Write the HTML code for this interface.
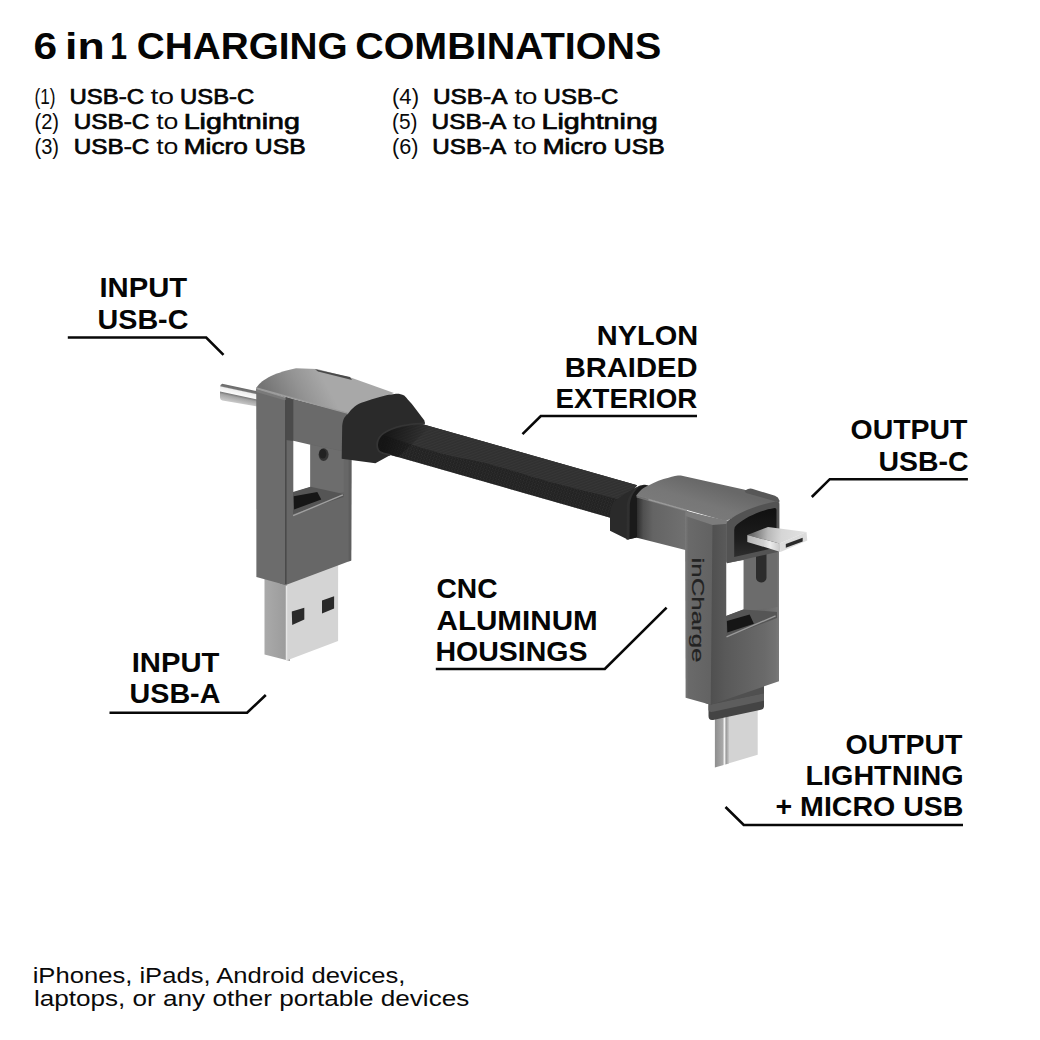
<!DOCTYPE html>
<html><head><meta charset="utf-8">
<style>
html,body{margin:0;padding:0;background:#fff;width:1040px;height:1040px;overflow:hidden}
svg{display:block}
.b{font-family:"Liberation Sans",sans-serif;font-weight:bold;fill:#050505}
.r{font-family:"Liberation Sans",sans-serif;font-weight:normal;fill:#0a0a0a;stroke:none}
.sb{font-family:"Liberation Sans",sans-serif;font-weight:normal;fill:#050505;stroke:#050505;stroke-width:0.7}
.ln{fill:none;stroke:#080808;stroke-width:2.6;stroke-linejoin:miter}
</style></head>
<body>
<svg width="1040" height="1040" viewBox="0 0 1040 1040">
<!-- title -->
<g class="b" font-size="37.8">
<text x="33.4" y="59" textLength="23.6" lengthAdjust="spacingAndGlyphs">6</text>
<text x="65" y="59" textLength="39.6" lengthAdjust="spacingAndGlyphs">in</text>
<text x="110.2" y="59" textLength="16.8" lengthAdjust="spacingAndGlyphs">1</text>
<text x="136.75" y="59" textLength="210.9" lengthAdjust="spacingAndGlyphs">CHARGING</text>
<text x="355.2" y="59" textLength="306.1" lengthAdjust="spacingAndGlyphs">COMBINATIONS</text>
</g>
<!-- list -->
<text id="p1" class="r" textLength="21" lengthAdjust="spacingAndGlyphs" x="34.5" y="103.75" font-size="21.8">(1)</text>
<text class="sb" x="69.50" y="103.75" font-size="21.8" textLength="74.51" lengthAdjust="spacingAndGlyphs">USB-C</text>
<text class="r" x="150.40" y="103.75" font-size="21.8" textLength="23.64" lengthAdjust="spacingAndGlyphs">to</text>
<text class="sb" x="180.11" y="103.75" font-size="21.8" textLength="74.10" lengthAdjust="spacingAndGlyphs">USB-C</text>
<text id="p2" class="r" textLength="24.5" lengthAdjust="spacingAndGlyphs" x="34.5" y="128.75" font-size="21.8">(2)</text>
<text class="sb" x="73.78" y="128.75" font-size="21.8" textLength="75.64" lengthAdjust="spacingAndGlyphs">USB-C</text>
<text class="r" x="156.20" y="128.75" font-size="21.8" textLength="22.25" lengthAdjust="spacingAndGlyphs">to</text>
<text class="sb" x="183.69" y="128.75" font-size="21.8" textLength="116.26" lengthAdjust="spacingAndGlyphs">Lightning</text>
<text id="p3" class="r" textLength="24.5" lengthAdjust="spacingAndGlyphs" x="34.5" y="153.5" font-size="21.8">(3)</text>
<text class="sb" x="73.78" y="153.5" font-size="21.8" textLength="75.64" lengthAdjust="spacingAndGlyphs">USB-C</text>
<text class="r" x="156.20" y="153.5" font-size="21.8" textLength="22.25" lengthAdjust="spacingAndGlyphs">to</text>
<text class="sb" x="183.80" y="153.5" font-size="21.8" textLength="64.04" lengthAdjust="spacingAndGlyphs">Micro</text>
<text class="sb" x="254.87" y="153.5" font-size="21.8" textLength="50.77" lengthAdjust="spacingAndGlyphs">USB</text>
<text id="p4" class="r" textLength="27" lengthAdjust="spacingAndGlyphs" x="392" y="103.75" font-size="21.8">(4)</text>
<text class="sb" x="432.98" y="103.75" font-size="21.8" textLength="74.50" lengthAdjust="spacingAndGlyphs">USB-A</text>
<text class="r" x="514.40" y="103.75" font-size="21.8" textLength="23.11" lengthAdjust="spacingAndGlyphs">to</text>
<text class="sb" x="543.60" y="103.75" font-size="21.8" textLength="74.61" lengthAdjust="spacingAndGlyphs">USB-C</text>
<text id="p5" class="r" textLength="25.5" lengthAdjust="spacingAndGlyphs" x="392" y="128.75" font-size="21.8">(5)</text>
<text class="sb" x="431.58" y="128.75" font-size="21.8" textLength="74.70" lengthAdjust="spacingAndGlyphs">USB-A</text>
<text class="r" x="512.70" y="128.75" font-size="21.8" textLength="23.22" lengthAdjust="spacingAndGlyphs">to</text>
<text class="sb" x="541.49" y="128.75" font-size="21.8" textLength="116.26" lengthAdjust="spacingAndGlyphs">Lightning</text>
<text id="p6" class="r" textLength="26.5" lengthAdjust="spacingAndGlyphs" x="392" y="153.5" font-size="21.8">(6)</text>
<text class="sb" x="432.29" y="153.5" font-size="21.8" textLength="73.99" lengthAdjust="spacingAndGlyphs">USB-A</text>
<text class="r" x="514.00" y="153.5" font-size="21.8" textLength="23.11" lengthAdjust="spacingAndGlyphs">to</text>
<text class="sb" x="542.80" y="153.5" font-size="21.8" textLength="64.04" lengthAdjust="spacingAndGlyphs">Micro</text>
<text class="sb" x="613.87" y="153.5" font-size="21.8" textLength="50.77" lengthAdjust="spacingAndGlyphs">USB</text>

<!-- callouts -->
<g class="b" font-size="26.9">
<text x="99.50" y="297.3" textLength="87.70" lengthAdjust="spacingAndGlyphs">INPUT</text>
<text x="97.50" y="328.8" textLength="90.90" lengthAdjust="spacingAndGlyphs">USB-C</text>
<text x="596.80" y="345.4" textLength="101.40" lengthAdjust="spacingAndGlyphs">NYLON</text>
<text x="564.70" y="376.5" textLength="132.80" lengthAdjust="spacingAndGlyphs">BRAIDED</text>
<text x="555.60" y="407.7" textLength="141.60" lengthAdjust="spacingAndGlyphs">EXTERIOR</text>
<text x="850.60" y="439.4" textLength="116.90" lengthAdjust="spacingAndGlyphs">OUTPUT</text>
<text x="878.50" y="470.6" textLength="90.00" lengthAdjust="spacingAndGlyphs">USB-C</text>
<text x="436.50" y="598.4" textLength="61.10" lengthAdjust="spacingAndGlyphs">CNC</text>
<text x="436.50" y="629.6" textLength="161.20" lengthAdjust="spacingAndGlyphs">ALUMINUM</text>
<text x="435.50" y="660.9" textLength="152.00" lengthAdjust="spacingAndGlyphs">HOUSINGS</text>
<text x="131.70" y="672" textLength="87.70" lengthAdjust="spacingAndGlyphs">INPUT</text>
<text x="129.50" y="703.2" textLength="90.90" lengthAdjust="spacingAndGlyphs">USB-A</text>
<text x="845.50" y="753.75" textLength="117.00" lengthAdjust="spacingAndGlyphs">OUTPUT</text>
<text x="805.50" y="785" textLength="158.00" lengthAdjust="spacingAndGlyphs">LIGHTNING</text>
<text x="775.50" y="815.5" textLength="188.00" lengthAdjust="spacingAndGlyphs">+ MICRO USB</text>
</g>
<polyline class="ln" points="67.8,337.5 206.2,337.5 223.5,354.8"/>
<polyline class="ln" points="522.5,434.2 540.8,416 697,416"/>
<polyline class="ln" points="811.8,497 829.8,479.2 967.9,479.2"/>
<polyline class="ln" points="435.8,669 604.8,669 666.6,607.7"/>
<polyline class="ln" points="109.5,712.7 247.1,712.7 265.8,695"/>
<polyline class="ln" points="725.5,807 743.75,825 963,825"/>

<!-- bottom -->
<text class="r" stroke="#0a0a0a" stroke-width="0.25" x="32.70" y="982.7" font-size="21.8" textLength="372.80" lengthAdjust="spacingAndGlyphs">iPhones, iPads, Android devices,</text>
<text class="r" stroke="#0a0a0a" stroke-width="0.25" x="33.90" y="1006.2" font-size="21.8" textLength="435.40" lengthAdjust="spacingAndGlyphs">laptops, or any other portable devices</text>

<g id="product">
<defs>
<linearGradient id="pinG" gradientUnits="userSpaceOnUse" x1="239.6" y1="386.6" x2="236.2" y2="402.4">
<stop offset="0" stop-color="#666"/><stop offset="0.2" stop-color="#747474"/><stop offset="0.27" stop-color="#eeeeee"/><stop offset="0.52" stop-color="#fafafa"/><stop offset="0.58" stop-color="#7e7e7e"/><stop offset="0.7" stop-color="#a4a4a4"/><stop offset="1" stop-color="#c6c6c6"/>
</linearGradient>
<linearGradient id="topL" gradientUnits="userSpaceOnUse" x1="268" y1="396" x2="318" y2="369">
<stop offset="0" stop-color="#747474"/><stop offset="0.55" stop-color="#939393"/><stop offset="1" stop-color="#a8a8a8"/>
</linearGradient>
<linearGradient id="topR" gradientUnits="userSpaceOnUse" x1="690" y1="478" x2="680" y2="510">
<stop offset="0" stop-color="#686868"/><stop offset="0.6" stop-color="#777777"/><stop offset="1" stop-color="#7a7a7a"/>
</linearGradient>
<linearGradient id="usbaL" x1="0" y1="0" x2="1" y2="0">
<stop offset="0" stop-color="#aaaaaa"/><stop offset="1" stop-color="#999999"/>
</linearGradient>
<linearGradient id="usbcL" x1="0" y1="0" x2="1" y2="0">
<stop offset="0" stop-color="#8e8e8e"/><stop offset="0.55" stop-color="#a8a8a8"/><stop offset="0.68" stop-color="#f2f2f2"/><stop offset="0.8" stop-color="#9a9a9a"/><stop offset="1" stop-color="#c8c8c8"/>
</linearGradient>
<linearGradient id="ltop" gradientUnits="userSpaceOnUse" x1="752" y1="530" x2="806" y2="534">
<stop offset="0" stop-color="#6a6a6a"/><stop offset="0.3" stop-color="#b8b8b8"/><stop offset="0.55" stop-color="#d6d6d6"/><stop offset="1" stop-color="#e2e2e2"/>
</linearGradient>
<linearGradient id="rfR" gradientUnits="userSpaceOnUse" x1="710" y1="0" x2="779" y2="0">
<stop offset="0" stop-color="#4f4f4f"/><stop offset="0.22" stop-color="#595959"/><stop offset="0.8" stop-color="#6a6a6a"/><stop offset="0.95" stop-color="#727272"/><stop offset="1" stop-color="#7a7a7a"/>
</linearGradient>
<linearGradient id="cabSh" gradientUnits="userSpaceOnUse" x1="385" y1="440" x2="425" y2="450">
<stop offset="0" stop-color="#111" stop-opacity="0.8"/><stop offset="1" stop-color="#111" stop-opacity="0"/>
</linearGradient>
<linearGradient id="hfR" gradientUnits="userSpaceOnUse" x1="637" y1="0" x2="690" y2="0">
<stop offset="0" stop-color="#2e2e2e"/><stop offset="0.12" stop-color="#505050"/><stop offset="0.3" stop-color="#646464"/><stop offset="1" stop-color="#727272"/>
</linearGradient>
<linearGradient id="lfront" gradientUnits="userSpaceOnUse" x1="747" y1="0" x2="780" y2="0">
<stop offset="0" stop-color="#b5b5b5"/><stop offset="0.5" stop-color="#d0d0d0"/><stop offset="0.7" stop-color="#ececec"/><stop offset="1" stop-color="#c8c8c8"/>
</linearGradient>
<linearGradient id="sockG" gradientUnits="userSpaceOnUse" x1="0" y1="510" x2="0" y2="557">
<stop offset="0" stop-color="#111"/><stop offset="0.6" stop-color="#1c1c1c"/><stop offset="1" stop-color="#2e2e2e"/>
</linearGradient>
<linearGradient id="lfR" gradientUnits="userSpaceOnUse" x1="685" y1="0" x2="712" y2="0">
<stop offset="0" stop-color="#7a7a7a"/><stop offset="0.12" stop-color="#6a6a6a"/><stop offset="1" stop-color="#626262"/>
</linearGradient>
<pattern id="topTex" width="2.6" height="2.6" patternUnits="userSpaceOnUse" patternTransform="rotate(70)">
<rect x="0" y="0" width="1" height="2.6" fill="#3c3c3c" opacity="0.55"/>
</pattern>
<pattern id="frontTex" width="3" height="3" patternUnits="userSpaceOnUse" patternTransform="rotate(16)">
<circle cx="0.8" cy="0.8" r="0.75" fill="#363636" opacity="0.8"/><circle cx="2.3" cy="2.3" r="0.75" fill="#363636" opacity="0.8"/><rect x="1.4" y="0" width="0.4" height="3" fill="#141414" opacity="0.6"/>
</pattern>
</defs>

<!-- LEFT CONNECTOR -->
<path d="M258,391.3 L222.2,383.7 Q220,384.5 220,387.5 L220,398 Q220.5,400 222.5,400.5 L258,406.6 Z" fill="url(#pinG)"/>
<!-- usb-a plug -->
<path d="M264.5,578 L290,582 L290,661 L264.5,654.5 Z" fill="url(#usbaL)"/>
<path d="M286.6,582 L338.1,564 L338.1,641 L286.6,660.5 Z" fill="#d4d4d4"/>
<path d="M286.5,586 L286.5,660" stroke="#e6e6e6" stroke-width="1.5"/>
<path d="M291.8,611.6 L304.3,607.7 L304.3,619.4 L292.2,625 Z" fill="#2a2a2a"/>
<path d="M322,600.4 L334.1,596.2 L334.1,608.6 L322,613.4 Z" fill="#2a2a2a"/>
<!-- top face -->
<path d="M256.25,388 C260,381 272,373 296,368.2 L317,369 L352,378 L394,393 L347.7,413.5 Z" fill="url(#topL)"/>
<path d="M315,369.2 L350,377 L352,380 L318,371.5 Z" fill="#4a4a4a"/>
<!-- right face of frame -->
<path d="M280,395.5 L351.5,414 L351.2,560.5 L285.8,585 L280,583.4 Z" fill="#676767"/>
<!-- left face of bar -->
<path d="M256.25,388.5 L285.6,397 L285.6,585 L256.4,576.9 Z" fill="#6c6c6c"/>
<path d="M256.25,388.5 L285.6,397 L292.5,399 L292.5,402.5 L285.6,400.5 L256.25,392 Z" fill="#7a7a7a"/>
<path d="M256.25,388.5 L285.6,397.5" stroke="#9a9a9a" stroke-width="1"/>
<!-- top housing front face -->
<path d="M293.3,399.4 L347.7,413.5 L343,451 L293.3,440.5 Z" fill="#6a6a6a"/>
<path d="M285.6,397 L293.3,399.4 L293.3,441 L285.6,440 Z" fill="#4b4b4b"/>
<path d="M256.25,388 L350,413.8" stroke="#9c9c9c" stroke-width="1.3"/>
<path d="M285.8,400 L285.8,584" stroke="#4a4a4a" stroke-width="1.6"/>
<!-- window -->
<path d="M293.3,440.8 L310.4,444.8 L310.4,487 L293.3,492.5 Z" fill="#ffffff"/>
<path d="M310.4,444.8 L343.8,451.5 L343.8,492 L310.4,499 Z" fill="#6d6d6d"/>
<ellipse cx="323.6" cy="454.6" rx="5" ry="6.3" fill="#353535"/>
<ellipse cx="322.8" cy="453.8" rx="3.6" ry="4.8" fill="#222"/>
<path d="M293,492 L310.6,486.7 L343.5,494 L343.5,497 L293,514.3 Z" fill="#555"/>
<path d="M293.7,496.2 L317.3,492.1 L321.3,499.5 L294.1,509.6 Z" fill="#161616"/>
<path d="M293.1,515.7 L342.9,494.8" stroke="#a0a0a0" stroke-width="1.4"/>
<path d="M348.6,452 L351.5,452 L351.2,560.5 L348.6,561.5 Z" fill="#5e5e5e"/>
<!-- CABLE -->
<path d="M376,411 L637.1,485.2 L610.2,517.7 L376,450.8 Z" fill="#212121"/>
<path d="M376,411 L637.1,485.2 L624,501 C600,494 560,486 520,473 C500,467 480,461 460,458 C430,452 400,440 376,433 Z" fill="#303030"/>
<path d="M376,411 L637.1,485.2 L624,501 C600,494 560,486 520,473 C500,467 480,461 460,458 C430,452 400,440 376,433 Z" fill="url(#topTex)"/>
<path d="M376,433 C400,440 430,452 460,458 C480,461 500,467 520,473 C560,486 600,494 624,501 L610.2,517.7 L376,450.8 Z" fill="url(#frontTex)"/>
<path d="M376,412 L430,427.3 L398,457.2 L376,450.8 Z" fill="url(#cabSh)"/>
<!-- boot left -->
<path d="M342.2,426 C343,419 345,416 347.5,414.6 C352,408 357,404 363.8,402.1 C375,398 385,395 394.6,394 C398,393.5 401,394 404.2,395.4 C407,398 409,401 411.9,404 L424.4,420.4 L424.9,423.3 C410,423 392,427 383.4,433.4 C377,438 375.5,446 379,451.2 C381,453.2 385,454.2 390.4,454.9 L375.4,463.2 L341.7,458.8 Z" fill="#2a2a2a"/>
<path d="M424.9,423.3 C410,423 392,427 383.4,433.4 C377,438 375.5,446 379,451.2 C381,453.2 385,454.2 390.4,454.9" fill="none" stroke="#353535" stroke-width="1.8"/>

<!-- RIGHT CONNECTOR -->
<!-- boot -->
<path d="M610,530.8 L610,515 C610,508 612,503 616,500 C621,496 628,492 634,488.5 L640,485.5 C644,484.5 646,484.5 648.5,485.5 L648.5,500 L639,537 L627.7,539.6 Z" fill="#2a2a2a"/>
<path d="M627.7,539.6 L628,505 C629,498 632,492 638,487 L646,485 L646,500 L639,537 Z" fill="#1a1a1a"/>
<path d="M626.5,539.8 L626.8,505 C627.8,498 631,492 637,487.2 L639.5,486.4 C634,491 630.5,497 629.8,505 L629.5,539 Z" fill="#303030"/>
<!-- top face -->
<path d="M636.2,495.5 C640,490 644,487 648.5,485.4 C655,482 662,479 668.5,477.7 C673,476 677,475.4 680.8,475.4 L743.8,489.5 L779.2,500.8 L725.4,521 Z" fill="url(#topR)"/>
<path d="M744.5,490.8 L748,489 Q750,488.3 752,488.8 L775,495.8 Q778.5,497 779.4,500.5 L779.4,502.5 L746,493 Z" fill="#575757"/>
<!-- housing front face -->
<path d="M637,497 L727,522 L727,562 L685.4,550 L637,537.7 Z" fill="url(#hfR)"/>
<path d="M636.5,495 L687,509.4 L687,511.8 L636.5,497.4 Z" fill="#858585" opacity="0.8"/>
<!-- neck + usb-c -->
<path d="M726.5,712 L757.7,706 L757.7,754.7 L726.5,764 Z" fill="#d3d3d3"/>
<path d="M714.9,716 L729,713 L729,763.5 L714.9,767.4 Z" fill="url(#usbcL)"/>
<path d="M708.5,706 Q708.5,702 712,701 L764,686 L764,706.5 Q764,709.2 761,709.8 L713,719.9 Q708.5,720.5 708.5,716 Z" fill="#444"/>
<path d="M708.5,704 L764,686 L764,693.3 L708.5,705 Z" fill="#505050"/>
<path d="M708.5,705 L764,693.3 L764,700.7 L713,711.8 Q708.8,712.5 708.5,710 Z" fill="#5d5d5d"/>
<!-- right face of frame -->
<path d="M705,521 L726.25,522 L726.25,563 L779,550 L779,681.3 L710.7,704.7 L705,703 Z" fill="url(#rfR)"/>
<!-- window -->
<path d="M726.25,563 L743.75,560 L743.75,609.4 L726.25,616 Z" fill="#fff"/>
<path d="M743.75,553 L777.5,549 L777.5,607 L743.75,612 Z" fill="#6c6c6c"/>
<rect x="756" y="548" width="10.5" height="34.5" rx="5" fill="#2c2c2c"/>
<path d="M726,616 L743.1,609.4 L777,612 L777,618 L726.5,637 Z" fill="#555"/>
<path d="M726.9,621 L749.6,614.5 L753.9,623.8 L727.3,632.5 Z" fill="#161616"/>
<path d="M726.5,636.8 L775.6,615.9" stroke="#9a9a9a" stroke-width="1.4"/>
<!-- left face of bar -->
<path d="M685,512.5 L712.5,522.5 L710.7,704.7 L685.6,697.8 Z" fill="url(#lfR)"/>
<path d="M685.4,511.5 L728.5,520.8 L728.5,523.8 L712.5,525 L685.4,516 Z" fill="#7c7c7c"/>
<text x="0" y="0" transform="translate(691.5,557.5) rotate(90)" font-family="Liberation Sans, sans-serif" font-size="17" fill="#222" stroke="#222" stroke-width="0.2" textLength="105" lengthAdjust="spacingAndGlyphs">inCharge</text>
<!-- socket end face -->
<path d="M726.5,562.7 L726.5,524 C727,521 729,519.5 732,518 C742,511 758,505 776,501.5 Q779.4,501 779.4,504 L779.4,550 Q779.4,551.5 777.5,552 L728.5,563 Q726.5,563.4 726.5,562.7 Z" fill="#535353"/>
<path d="M734.2,557 L734.2,530 Q734.2,526.5 737,524.5 C746,517 760,510.5 774.6,507.9 Q776.5,507.7 776.5,510 L776.5,547.3 Z" fill="url(#sockG)"/>
<!-- lightning -->
<path d="M747.3,535 L768,527 L806.5,531.9 L779.6,543.5 Z" fill="url(#ltop)"/>
<path d="M747.3,535 L779.6,543.5 L780.4,551.9 L747.3,541.9 Z" fill="url(#lfront)"/>
<path d="M779.6,543.5 L806.5,531.9 L807.3,540.4 L780.4,551.9 Z" fill="#dcdcdc"/>
<path d="M785.8,544 L802.7,537.8 L802.7,541.5 L785.8,547.8 Z" fill="#2a2a2a"/>
</g>
</svg>
</body></html>
